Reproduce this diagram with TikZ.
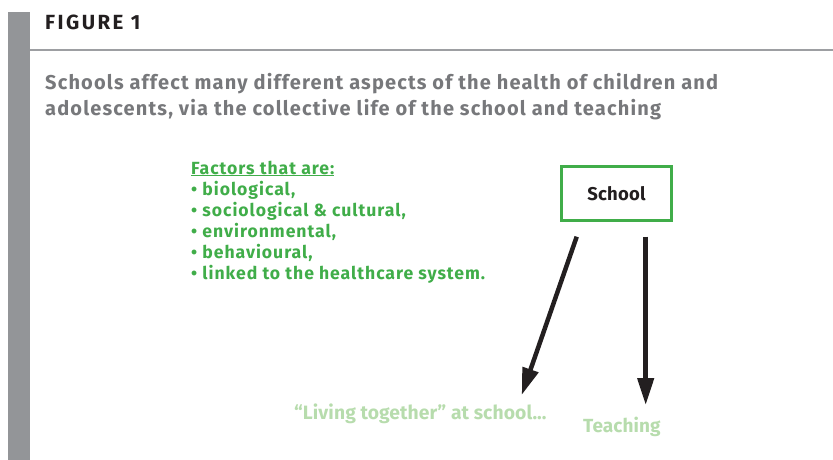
\documentclass[tikz,border=0pt]{standalone}
\usepackage{fontspec}
\setmainfont{Fira Sans}
\usetikzlibrary{arrows.meta}
\definecolor{bargray}{RGB}{147,149,152}
\definecolor{rulegray}{RGB}{157,159,162}
\definecolor{titledark}{RGB}{35,31,32}
\definecolor{subgray}{RGB}{119,120,123}
\definecolor{factgreen}{RGB}{64,173,73}
\definecolor{lightgreen}{RGB}{183,220,173}
\newcommand{\fsz}[2]{\fontsize{#1}{#1}\selectfont\bfseries\addfontfeatures{LetterSpace=#2}}
\tikzset{
  txt/.style={anchor=base west, inner sep=0pt},
  fact/.style={txt, text=factgreen, font=\fsz{17.6}{5.5}},
  arr/.style={line width=4.5pt, draw=titledark, -{Triangle[length=27pt,width=16pt]}},
}
\begin{document}
\begin{tikzpicture}[x=1pt,y=-1pt]
\useasboundingbox (0,0) rectangle (833,460);
% gray side bar and rule
\fill[bargray] (8,12) rectangle (30,460);
\fill[rulegray] (30,48.8) rectangle (833,51.2);
% title
\node[txt, text=titledark, font=\fsz{20.5}{12}] (fig) at (45,29.3) {FIGURE 1};
\node[txt, text=subgray, font=\fsz{20}{5.8}] (sub1) at (45,89) {Schools affect many different aspects of the health of children and};
\node[txt, text=subgray, font=\fsz{20}{5.8}] (sub2) at (45,115) {adolescents, via the collective life of the school and teaching};
% factors
\node[fact] (f0) at (191,174) {\underline{Factors that are:}};
\node[fact] (f1) at (191,195) {• biological,};
\node[fact] (f2) at (191,216) {• sociological \& cultural,};
\node[fact] (f3) at (191,237) {• environmental,};
\node[fact] (f4) at (191,258) {• behavioural,};
\node[fact] (f5) at (191,279) {• linked to the healthcare system.};
% school box
\node[draw=factgreen, line width=2.2pt, minimum width=110pt, minimum height=54pt, inner sep=0pt,
      font=\fsz{18.5}{1}, text=titledark] (school) at (616.5,193.5) {School};
% targets
\node[txt, text=lightgreen, font=\fsz{19.3}{0.5}] (living) at (294,419) {“Living together” at school...};
\node[txt, text=lightgreen, font=\fsz{19}{0.5}] (teach) at (583,432) {Teaching};
% arrows
\coordinate (s1) at (576.7,236.7);
\coordinate (e1) at (521.7,395);
\coordinate (s2) at (645.7,236.7);
\coordinate (e2) at (645.7,405);
\draw[arr] (s1) -- (e1);
\draw[arr] (s2) -- (e2);
\end{tikzpicture}
\end{document}
